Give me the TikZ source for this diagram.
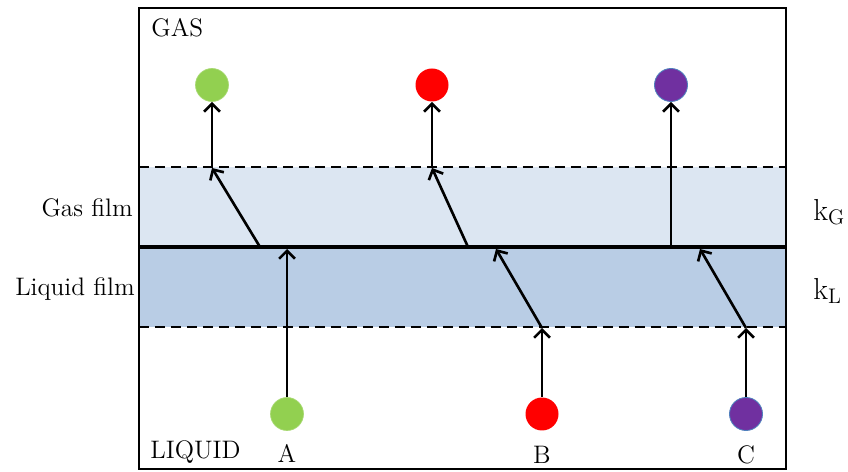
\documentclass[tikz,border=0pt]{standalone}
\usetikzlibrary{arrows.meta}
\definecolor{gasfilm}{HTML}{DCE6F2}
\definecolor{liqfilm}{HTML}{B9CDE5}
\definecolor{molA}{HTML}{92D050}
\definecolor{molB}{HTML}{FF0000}
\definecolor{molC}{HTML}{7030A0}
\definecolor{molCedge}{HTML}{4F81BD}
\begin{document}
\begin{tikzpicture}[x=0.02cm,y=-0.02cm,
  mol/.style={circle,minimum size=0.66cm,inner sep=0pt},
  flux/.style={line width=1.5pt,-{Straight Barb[length=4.5pt,width=9pt,line width=1.5pt]}},
  filmline/.style={line width=1.4pt,dash pattern=on 5.7pt off 3.4pt},
  lbl/.style={font=\fontsize{14.4}{16}\selectfont,inner sep=0pt},
  klbl/.style={font=\fontsize{18}{20}\selectfont,inner sep=0pt,anchor=west}]
\useasboundingbox (0,0) rectangle (848,472);
% films
\fill[gasfilm] (139,167) rectangle (786,247);
\fill[liqfilm] (139,247) rectangle (786,327);
\draw[filmline] (139,167) -- (786,167);
\draw[filmline] (139,327) -- (786,327);
\draw[line width=2.2pt] (139,247) -- (786,247);
\draw[line width=1.5pt] (139,8) rectangle (786,469);
% molecules
\node[mol,fill=molA,draw=molA!80!white,line width=0.4pt] (gA) at (212,85) {};
\node[mol,fill=molB] (gB) at (432,85) {};
\node[mol,fill=molC,draw=molCedge,line width=0.5pt] (gC) at (671,85) {};
\node[mol,fill=molA,draw=molA!80!white,line width=0.4pt] (lA) at (287,414) {};
\node[mol,fill=molB] (lB) at (542,414) {};
\node[mol,fill=molC,draw=molCedge,line width=0.5pt] (lC) at (746,414) {};
% path points
\coordinate (iA) at (287,249);
\coordinate (sA) at (260,247);
\coordinate (dA) at (212,168);
\coordinate (eB) at (542,328);
\coordinate (iB) at (496,249);
\coordinate (sB) at (468,247);
\coordinate (dB) at (432,168);
\coordinate (eC) at (746,328);
\coordinate (iC) at (700,249);
\coordinate (sC) at (671,247);
% fluxes
\draw[flux] (lA) -- (iA);
\draw[flux] (sA) -- (dA);
\draw[flux] (dA) -- (gA);
\draw[flux] (lB) -- (eB);
\draw[flux] (eB) -- (iB);
\draw[flux] (sB) -- (dB);
\draw[flux] (dB) -- (gB);
\draw[flux] (lC) -- (eC);
\draw[flux] (eC) -- (iC);
\draw[flux] (sC) -- (gC);
% labels
\node[lbl,anchor=west] (tgas) at (151,28) {GAS};
\node[lbl,anchor=west] (tliq) at (150,452) {LIQUID};
\node[lbl] (tA) at (287,453) {A};
\node[lbl] (tB) at (542,455) {B};
\node[lbl] (tC) at (746,455) {C};
\node[lbl,anchor=east] (tgf) at (133,208) {Gas film};
\node[lbl,anchor=east] (tlf) at (135,289) {Liquid film};
\node[klbl] (kG) at (813,212) {$\mathrm{k_G}$};
\node[klbl] (kL) at (813,291) {$\mathrm{k_L}$};
\end{tikzpicture}
\end{document}
